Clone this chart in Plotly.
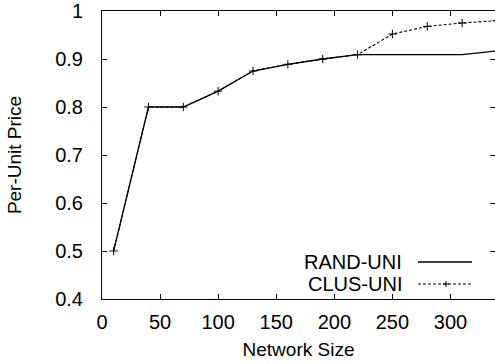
import plotly.graph_objects as go

network_size = [10, 40, 70, 100, 130, 160, 190, 220, 250, 280, 310, 340]
rand_uni = [0.5, 0.8, 0.8, 0.833, 0.875, 0.889, 0.9, 0.909, 0.909, 0.909, 0.909, 0.917]
clus_uni = [0.5, 0.8, 0.8, 0.833, 0.875, 0.889, 0.9, 0.909, 0.952, 0.968, 0.975, 0.98]
x_ticks = [0, 50, 100, 150, 200, 250, 300]
y_ticks = [0.4, 0.5, 0.6, 0.7, 0.8, 0.9, 1.0]
y_tick_labels = ["0.4", "0.5", "0.6", "0.7", "0.8", "0.9", "1"]

FONT = "Liberation Sans, Arial, sans-serif"
FS = 20

fig = go.Figure()
fig.add_trace(go.Scatter(x=network_size, y=rand_uni, mode="lines", name="RAND-UNI",
                         line=dict(color="black", width=1.3), showlegend=False))
fig.add_trace(go.Scatter(x=network_size, y=clus_uni, mode="lines+markers", name="CLUS-UNI",
                         line=dict(color="black", width=1.1, dash="3px,2px"),
                         marker=dict(symbol="cross-thin", size=6, line=dict(color="black", width=1)),
                         showlegend=False))
# invisible trace on the right y axis for mirrored ticks
fig.add_trace(go.Scatter(x=[network_size[0]], y=[rand_uni[0]], yaxis="y2", mode="markers",
                         marker=dict(opacity=0), showlegend=False, hoverinfo="skip"))

fig.update_layout(
    width=495, height=364,
    margin=dict(l=102, r=0, t=11, b=65),
    paper_bgcolor="white", plot_bgcolor="white",
    font=dict(family=FONT, size=FS, color="black"),
    xaxis=dict(range=[0, 338.3], tickvals=x_ticks, ticks="inside", ticklen=5, tickcolor="black",
               showline=True, linecolor="black", linewidth=1, mirror="ticks", showgrid=False,
               zeroline=False, ticklabelstandoff=5,
               title=dict(text="Network Size", standoff=10, font=dict(size=19))),
    yaxis=dict(range=[0.4, 1.0], tickvals=y_ticks, ticktext=y_tick_labels, ticks="inside", ticklen=5,
               tickcolor="black", showline=True, linecolor="black", linewidth=1, showgrid=False,
               zeroline=False, ticklabelstandoff=14,
               title=dict(text="Per-Unit Price", standoff=28, font=dict(size=19))),
    yaxis2=dict(range=[0.4, 1.0], tickvals=y_ticks, overlaying="y", side="right", ticks="inside",
                ticklen=5, tickcolor="black", showticklabels=False, showline=False,
                showgrid=False, zeroline=False),
)

# gnuplot-style key (text on left, sample on right)
W, H = 495, 364
L, T, B = 102, 11, 65
def px_x(p):
    return (p - L) / (W - L)
def px_y(p):
    return 1 - (p - T) / (H - T - B)

legend_items = [("RAND-UNI", 262, None), ("CLUS-UNI", 284, "3px,2px")]
for label, ypix, dash in legend_items:
    yy = px_y(ypix)
    fig.add_annotation(xref="paper", yref="paper", x=px_x(404), y=yy,
                       text=label, showarrow=False, xanchor="right", yanchor="middle",
                       font=dict(size=FS, family=FONT))
    fig.add_shape(type="line", xref="paper", yref="paper",
                  x0=px_x(418), x1=px_x(472), y0=yy, y1=yy,
                  line=dict(color="black", width=1.3 if dash is None else 1.1,
                            dash="solid" if dash is None else dash))
    if dash is not None:
        cx = px_x(446)
        dx = 3 / (W - L)
        dy = 3 / (H - T - B)
        fig.add_shape(type="line", xref="paper", yref="paper", x0=cx - dx, x1=cx + dx, y0=yy, y1=yy,
                      line=dict(color="black", width=1))
        fig.add_shape(type="line", xref="paper", yref="paper", x0=cx, x1=cx, y0=yy - dy, y1=yy + dy,
                      line=dict(color="black", width=1))

fig.write_html("out.html")
